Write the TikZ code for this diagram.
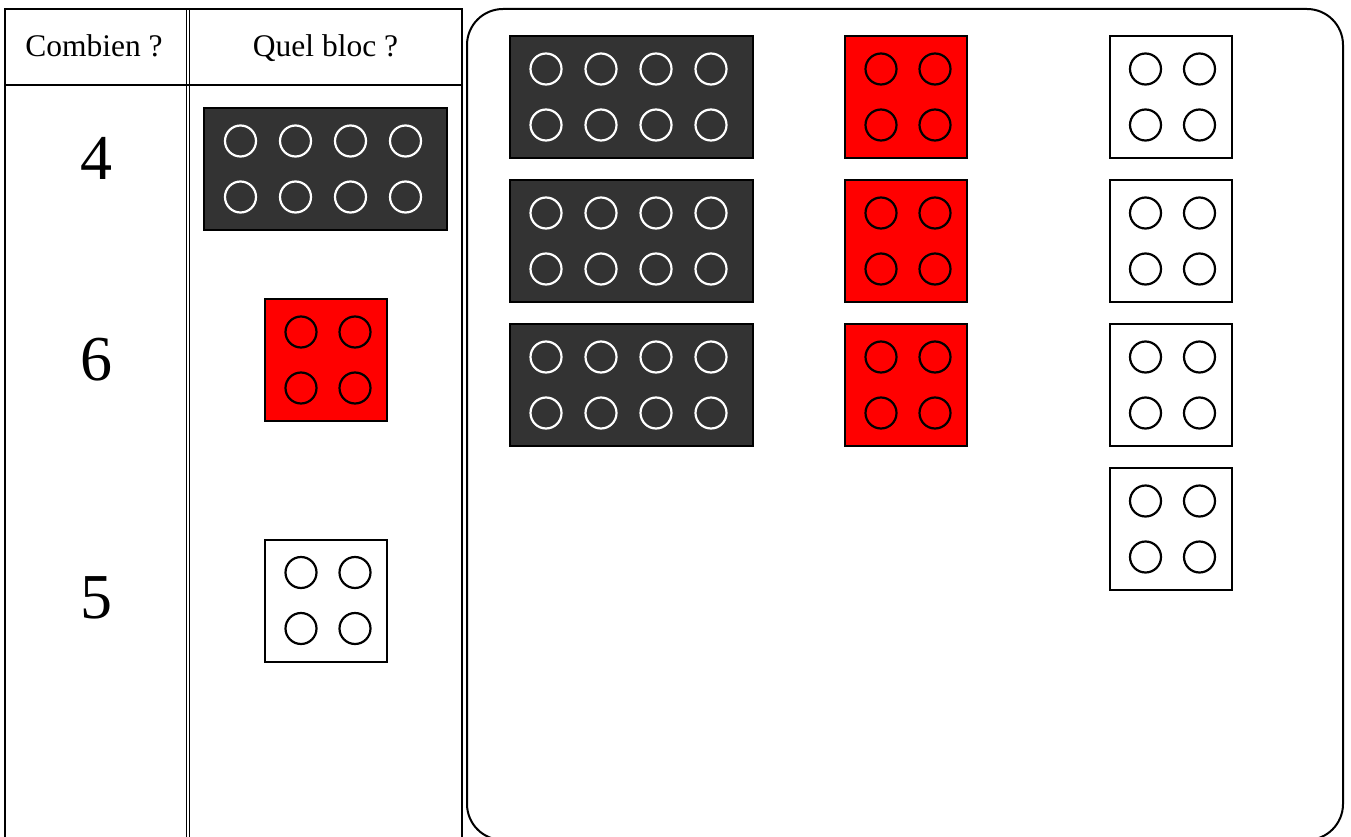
\documentclass[tikz,border=0pt]{standalone}
\usepackage{fontspec}
\setmainfont{Liberation Serif}
\definecolor{darkbrick}{HTML}{333333}
\definecolor{redbrick}{HTML}{FF0000}
\tikzset{
  rule/.style={line width=2pt, draw=black},
  brickbox/.style={draw=black, line width=2pt, minimum height=122pt, inner sep=0pt},
  wide/.style={brickbox, minimum width=243pt},
  square/.style={brickbox, minimum width=122pt},
  stud/.style={line width=2.2pt},
  head/.style={font=\fontsize{31.5}{34}\selectfont, anchor=base, inner sep=0pt},
  count/.style={font=\fontsize{64}{66}\selectfont, anchor=base, inner sep=0pt},
}
% name, x, y, fill colour, stud colour
\newcommand\widebrick[5]{%
  \node[wide, fill=#4] (#1) at (#2,#3) {};
  \foreach \dx in {-85,-30,25,80}
    \foreach \dy in {-28,28}
      \draw[stud, draw=#5] ($(#1.center)+(\dx,\dy)$) circle (15.5);
}
\newcommand\squarebrick[5]{%
  \node[square, fill=#4] (#1) at (#2,#3) {};
  \foreach \dx in {-25,29}
    \foreach \dy in {-28,28}
      \draw[stud, draw=#5] ($(#1.center)+(\dx,\dy)$) circle (15.5);
}
\usetikzlibrary{calc}
\begin{document}
\begin{tikzpicture}[x=1pt, y=-1pt]
\useasboundingbox (0,0) rectangle (1351,837);
\clip (0,0) rectangle (1351,837);
\fill[white] (0,0) rectangle (1351,837);
% table
\draw[rule] (5,850) -- (5,9) -- (462,9) -- (462,850);
\draw[rule] (5,85) -- (462,85);
\draw[line width=1.3pt] (186.2,9) -- (186.2,850);
\draw[line width=1.3pt] (189.3,9) -- (189.3,850);
% header
\node[head] (h1) at (94,57) {Combien ?};
\node[head] (h2) at (325.5,57) {Quel bloc ?};
% counts
\node[count] (n4) at (96,180) {4};
\node[count] (n6) at (96,380) {6};
\node[count] (n5) at (96,618) {5};
% table bricks
\widebrick{tdark}{325.5}{169}{darkbrick}{white}
\squarebrick{tred}{326}{360}{redbrick}{black}
\squarebrick{twhite}{326}{600.5}{white}{black}
% rounded panel
\draw[rule, rounded corners=36pt] (467,9) rectangle (1343,840);
% panel bricks
\widebrick{d1}{631}{97}{darkbrick}{white}
\widebrick{d2}{631}{241}{darkbrick}{white}
\widebrick{d3}{631}{385}{darkbrick}{white}
\squarebrick{r1}{906}{97}{redbrick}{black}
\squarebrick{r2}{906}{241}{redbrick}{black}
\squarebrick{r3}{906}{385}{redbrick}{black}
\squarebrick{w1}{1170.5}{97}{white}{black}
\squarebrick{w2}{1170.5}{241}{white}{black}
\squarebrick{w3}{1170.5}{385}{white}{black}
\squarebrick{w4}{1170.5}{529}{white}{black}
\end{tikzpicture}
\end{document}
